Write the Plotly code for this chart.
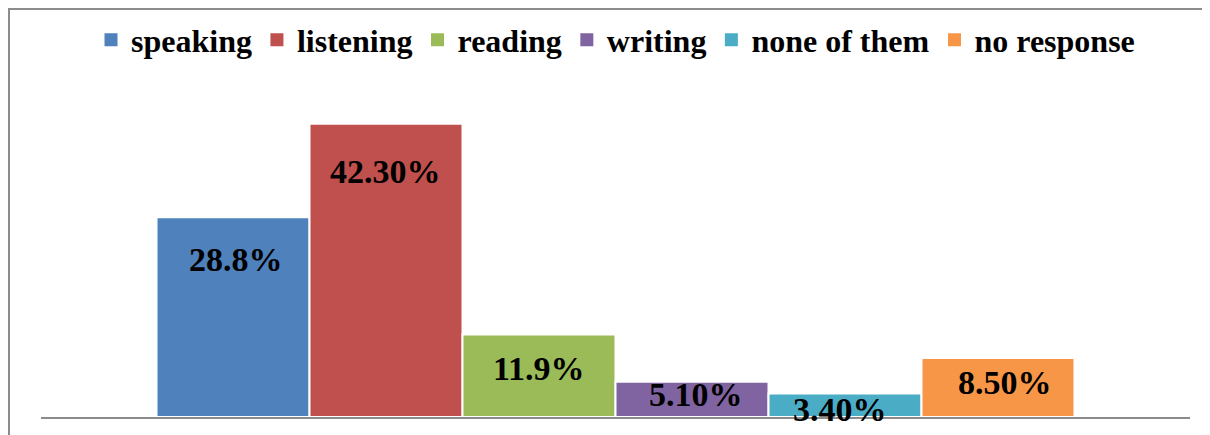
import plotly.graph_objects as go

# ---- data ----
categories = ["speaking", "listening", "reading", "writing", "none of them", "no response"]
values = [28.8, 42.3, 11.9, 5.1, 3.4, 8.5]
labels = ["28.8%", "42.30%", "11.9%", "5.10%", "3.40%", "8.50%"]

# ---- style ----
colors = ["#4F81BD", "#C0504D", "#9BBB59", "#8064A2", "#4BACC6", "#F79646"]
label_drop_px = [42, 48, 34, 13, 16, 24]   # label centre below bar top
label_xshift_px = [3, -1, 0, 4, -5, 7]
FONT = "Liberation Serif, Times New Roman, serif"

# page body has an 8px margin, so the figure is 8px smaller than the window
W, H = 1202, 427
ML, MR, MT, MB = 33, 20, 97, 18
PW = W - ML - MR
PH = H - MT - MB

fig = go.Figure()
for i, (cat, v, c) in enumerate(zip(categories, values, colors)):
    fig.add_trace(go.Bar(
        x=[i], y=[v], name=cat, width=1.0, legendgroup=cat, showlegend=False,
        marker=dict(color=c, line=dict(color="white", width=2)),
        hoverinfo="name+y",
    ))
    # legend entry with a larger square swatch
    fig.add_trace(go.Scatter(
        x=[None], y=[None], mode="markers", name=cat, legendgroup=cat,
        marker=dict(symbol="square", size=13, color=c),
        hoverinfo="skip",
    ))
    fig.add_annotation(
        x=i, y=v, xref="x", yref="y", text=labels[i], showarrow=False,
        yanchor="middle", yshift=-label_drop_px[i], xshift=label_xshift_px[i],
        font=dict(family=FONT, size=34, color="black", weight="bold"),
    )

n = len(categories)
half = 3.755
fig.update_layout(
    width=W, height=H,
    margin=dict(l=ML, r=MR, t=MT, b=MB, pad=0, autoexpand=False),
    paper_bgcolor="white", plot_bgcolor="white",
    barmode="overlay",
    showlegend=True,
    legend=dict(
        orientation="h", x=0.5, xanchor="center",
        y=(H - MB - 32) / PH, yanchor="middle",
        font=dict(family=FONT, size=32, color="black", weight="bold"),
        itemwidth=30, bgcolor="rgba(0,0,0,0)",
        itemclick=False, itemdoubleclick=False,
    ),
    xaxis=dict(
        range=[(n - 1) / 2 - half, (n - 1) / 2 + half],
        showgrid=False, zeroline=False, showticklabels=False, ticks="",
        showline=True, linecolor="#8C8C8C", linewidth=2, fixedrange=True,
    ),
    yaxis=dict(
        range=[0, 45], showgrid=False, zeroline=False, showticklabels=False,
        ticks="", showline=False, fixedrange=True,
    ),
)

# outer chart border
fig.add_shape(
    type="rect", xref="paper", yref="paper",
    x0=(1 - ML) / PW, x1=(1197 - ML) / PW,
    y0=(H - MB - 460) / PH, y1=(H - MB - 1) / PH,
    line=dict(color="#8C8C8C", width=2), fillcolor="rgba(0,0,0,0)", layer="below",
)

fig.write_html("out.html")
